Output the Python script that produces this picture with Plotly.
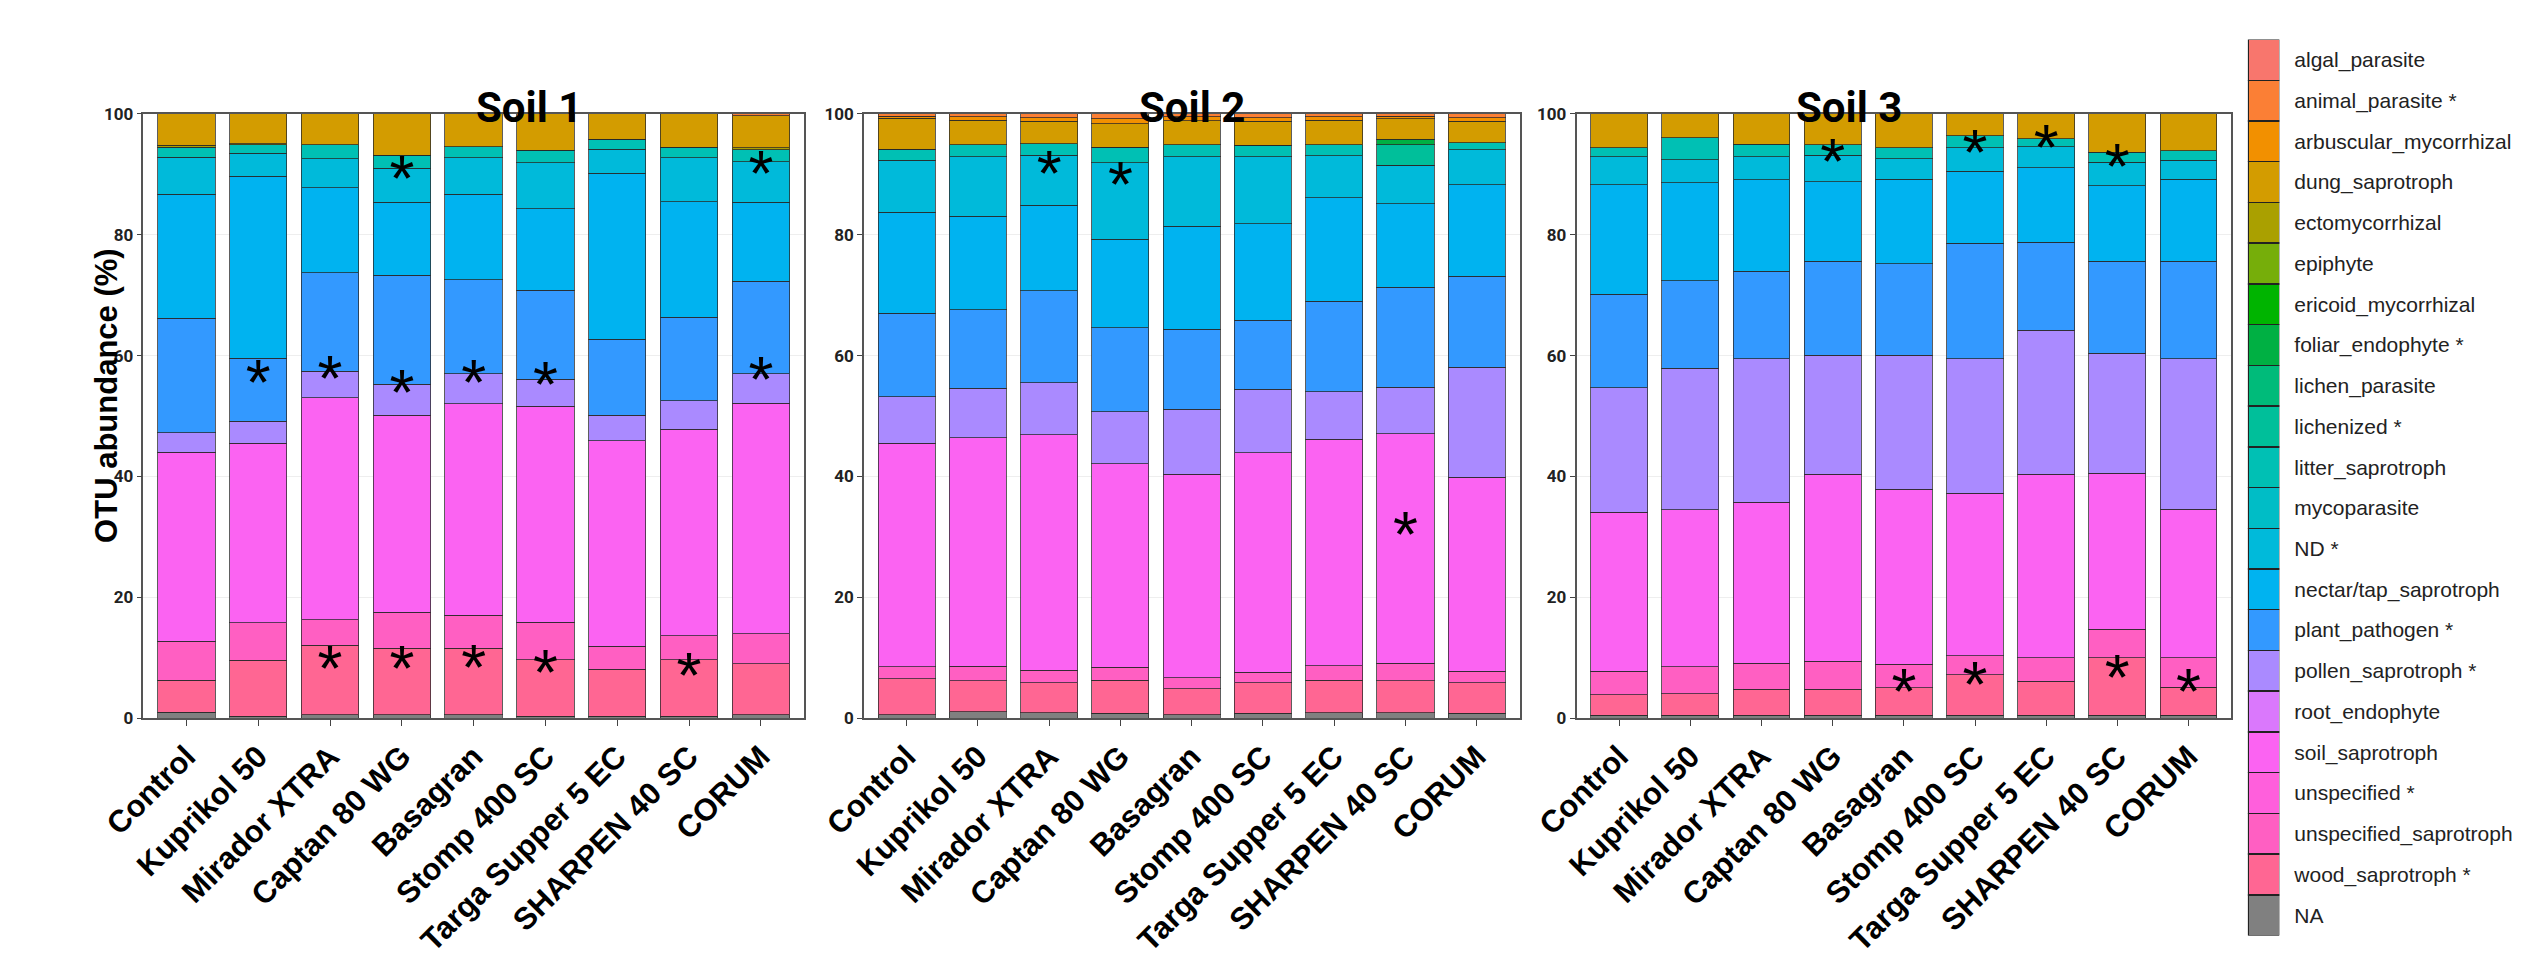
import plotly.graph_objects as go

treatments = ['Control', 'Kuprikol 50', 'Mirador XTRA', 'Captan 80 WG', 'Basagran',
              'Stomp 400 SC', 'Targa Supper 5 EC', 'SHARPEN 40 SC', 'CORUM']

# guilds in legend order (top of the stack first)
guilds = ['algal_parasite', 'animal_parasite', 'arbuscular_mycorrhizal', 'dung_saprotroph',
          'ectomycorrhizal', 'epiphyte', 'ericoid_mycorrhizal', 'foliar_endophyte',
          'lichen_parasite', 'lichenized', 'litter_saprotroph', 'mycoparasite', 'ND',
          'nectar/tap_saprotroph', 'plant_pathogen', 'pollen_saprotroph', 'root_endophyte',
          'soil_saprotroph', 'unspecified', 'unspecified_saprotroph', 'wood_saprotroph', 'NA']
starred = ['animal_parasite', 'foliar_endophyte', 'lichenized', 'ND', 'plant_pathogen',
           'pollen_saprotroph', 'unspecified', 'wood_saprotroph']
guild_colors = ['#F8766D', '#FB7F35', '#F29000', '#D39C00', '#AAA000', '#76AE0A',
                '#00B400', '#00B043', '#00BB7A', '#00BF9A', '#00C0B4', '#00BDC6',
                '#00BADA', '#00B3F0', '#3399FF', '#AA8AFF', '#DA78FC', '#FB63F2',
                '#FF5FDC', '#FF5FC2', '#FF6693', '#808080']

# Soil 1 - OTU abundance (%)
s1_na = [1.0, 0.3, 0.6, 0.6, 0.6, 0.3, 0.3, 0.3, 0.6]
s1_wood = [5.3, 9.3, 11.5, 11.0, 11.0, 9.4, 7.8, 9.4, 8.4]
s1_unspec_sap = [6.4, 6.15, 4.15, 5.9, 5.4, 6.2, 3.8, 3.9, 5.0]
s1_soil = [31.3, 29.75, 36.75, 32.6, 35.0, 35.7, 34.0, 34.2, 38.1]
s1_pollen = [3.2, 3.6, 4.4, 5.2, 5.0, 4.5, 4.2, 4.7, 4.9]
s1_plant = [19.0, 10.5, 16.35, 18.0, 15.6, 14.75, 12.6, 13.85, 15.35]
s1_nectar = [20.5, 30.1, 14.05, 12.1, 14.1, 13.45, 27.5, 19.15, 13.05]
s1_nd = [6.1, 3.8, 4.8, 5.6, 6.05, 7.6, 4.0, 7.25, 6.7]
s1_litter = [1.7, 1.4, 2.3, 2.2, 1.85, 2.1, 1.6, 1.75, 2.0]
s1_ecto = [0.3, 0.2, 0, 0, 0, 0, 0, 0, 0.3]
s1_dung = [5.2, 5.0, 5.1, 6.8, 5.4, 6.0, 4.2, 5.5, 5.3]
s1_animal = [0, 0, 0, 0, 0, 0, 0, 0, 0.4]

# Soil 2
s2_na = [0.6, 1.1, 0.9, 0.8, 0.6, 0.8, 0.9, 0.9, 0.8]
s2_wood = [5.9, 5.1, 5.0, 5.5, 4.3, 5.1, 5.4, 5.3, 5.1]
s2_unspec_sap = [2.0, 2.4, 2.0, 2.1, 1.8, 1.7, 2.4, 2.9, 1.9]
s2_soil = [37.0, 37.8, 39.0, 33.7, 33.7, 36.3, 37.5, 38.0, 32.1]
s2_pollen = [7.7, 8.2, 8.6, 8.6, 10.7, 10.5, 7.8, 7.7, 18.15]
s2_plant = [13.8, 13.0, 15.2, 13.9, 13.3, 11.45, 15.0, 16.5, 15.05]
s2_nectar = [16.7, 15.5, 14.2, 14.7, 17.0, 15.95, 17.1, 13.85, 15.2]
s2_nd = [8.6, 9.8, 8.3, 12.6, 11.5, 11.1, 7.0, 6.35, 5.8]
s2_litter = [1.9, 2.0, 1.9, 2.6, 2.0, 1.9, 1.8, 0, 1.1]
s2_lichenized = [0, 0, 0, 0, 0, 0, 0, 3.4, 0]
s2_foliar = [0, 0, 0, 0, 0, 0, 0, 0.9, 0]
s2_dung = [5.1, 4.1, 3.7, 3.9, 4.0, 4.0, 4.1, 3.4, 3.6]
s2_arbuscular = [0.3, 0.5, 0.6, 0.8, 0.6, 0.6, 0.5, 0.4, 0.6]
s2_animal = [0.4, 0.5, 0.6, 0.8, 0.5, 0.6, 0.5, 0.4, 0.6]

# Soil 3
s3_na = [0.5, 0.5, 0.5, 0.5, 0.5, 0.5, 0.5, 0.5, 0.5]
s3_wood = [3.4, 3.5, 4.3, 4.3, 4.5, 6.7, 5.6, 9.5, 4.6]
s3_unspec_sap = [3.9, 4.5, 4.3, 4.6, 3.9, 3.1, 3.9, 4.7, 4.9]
s3_soil = [26.25, 26.0, 26.6, 31.0, 29.0, 26.9, 30.4, 25.8, 24.6]
s3_pollen = [20.65, 23.4, 23.8, 19.7, 22.2, 22.3, 23.8, 19.9, 24.9]
s3_plant = [15.5, 14.5, 14.5, 15.5, 15.1, 19.1, 14.6, 15.2, 16.1]
s3_nectar = [18.1, 16.2, 15.1, 13.2, 14.0, 11.9, 12.3, 12.5, 13.6]
s3_nd = [4.6, 3.8, 3.8, 4.4, 3.4, 3.9, 3.5, 3.9, 3.1]
s3_litter = [1.5, 3.7, 2.1, 1.7, 1.8, 2.0, 1.3, 1.7, 1.6]
s3_dung = [5.6, 4.0, 5.0, 5.1, 5.6, 3.6, 4.1, 6.3, 6.1]

# significance asterisks (treatment, height in %)
s1_star_x = ['Kuprikol 50', 'Mirador XTRA', 'Captan 80 WG', 'Captan 80 WG', 'Basagran',
             'Stomp 400 SC', 'CORUM', 'CORUM', 'CORUM', 'Mirador XTRA', 'Captan 80 WG',
             'Basagran', 'Stomp 400 SC', 'SHARPEN 40 SC']
s1_star_y = [54.4, 55.2, 52.8, 88.2, 54.5, 54.1, 100.9, 89.0, 54.9, 7.2, 7.2, 7.3, 6.4, 6.0]
s2_star_x = ['Mirador XTRA', 'Captan 80 WG', 'SHARPEN 40 SC']
s2_star_y = [89.1, 87.2, 29.3]
s3_star_x = ['Captan 80 WG', 'Stomp 400 SC', 'Targa Supper 5 EC', 'SHARPEN 40 SC',
             'Basagran', 'Stomp 400 SC', 'SHARPEN 40 SC', 'CORUM']
s3_star_y = [91.0, 92.6, 93.3, 90.3, 3.3, 4.5, 5.6, 3.3]

soils = [
    {'NA': s1_na, 'wood_saprotroph': s1_wood, 'unspecified_saprotroph': s1_unspec_sap,
     'soil_saprotroph': s1_soil, 'pollen_saprotroph': s1_pollen, 'plant_pathogen': s1_plant,
     'nectar/tap_saprotroph': s1_nectar, 'ND': s1_nd, 'litter_saprotroph': s1_litter,
     'ectomycorrhizal': s1_ecto, 'dung_saprotroph': s1_dung, 'animal_parasite': s1_animal},
    {'NA': s2_na, 'wood_saprotroph': s2_wood, 'unspecified_saprotroph': s2_unspec_sap,
     'soil_saprotroph': s2_soil, 'pollen_saprotroph': s2_pollen, 'plant_pathogen': s2_plant,
     'nectar/tap_saprotroph': s2_nectar, 'ND': s2_nd, 'litter_saprotroph': s2_litter,
     'lichenized': s2_lichenized, 'foliar_endophyte': s2_foliar, 'dung_saprotroph': s2_dung,
     'arbuscular_mycorrhizal': s2_arbuscular, 'animal_parasite': s2_animal},
    {'NA': s3_na, 'wood_saprotroph': s3_wood, 'unspecified_saprotroph': s3_unspec_sap,
     'soil_saprotroph': s3_soil, 'pollen_saprotroph': s3_pollen, 'plant_pathogen': s3_plant,
     'nectar/tap_saprotroph': s3_nectar, 'ND': s3_nd, 'litter_saprotroph': s3_litter,
     'dung_saprotroph': s3_dung},
]
stars = [(s1_star_x, s1_star_y), (s2_star_x, s2_star_y), (s3_star_x, s3_star_y)]
titles = ['Soil 1', 'Soil 2', 'Soil 3']

W, H = 2521, 963
x_domains = [[94 / W, 766 / W], [827 / W, 1494 / W], [1552 / W, 2218 / W]]
y_domain = [(H - 715) / H, (H - 98) / H]

color_of = dict(zip(guilds, guild_colors))
fig = go.Figure()

for k, soil in enumerate(soils):
    ax = '' if k == 0 else str(k + 1)
    # stack from the bottom of the legend upwards
    for g in reversed(guilds):
        if g not in soil:
            continue
        fig.add_trace(go.Bar(x=treatments, y=soil[g], name=g, width=0.8,
                             marker=dict(color=color_of[g],
                                         line=dict(color='rgba(40,40,40,0.75)', width=1)),
                             xaxis='x' + ax, yaxis='y' + ax, showlegend=False))
    fig.add_trace(go.Scatter(x=stars[k][0], y=stars[k][1], mode='text', text='*',
                             textposition='middle center',
                             textfont=dict(family='Liberation Sans', size=64, color='black'),
                             xaxis='x' + ax, yaxis='y' + ax, showlegend=False, cliponaxis=False))

    fig.layout['xaxis' + ax] = dict(
        domain=x_domains[k], anchor='y' + ax, type='category', range=[-0.6, 8.6],
        tickangle=-45, ticks='outside', ticklen=6, tickcolor='#444',
        tickfont=dict(family='Liberation Sans', size=31, color='black', weight='bold'),
        showline=True, mirror=True, linecolor='#555', linewidth=1.5, showgrid=False)
    fig.layout['yaxis' + ax] = dict(
        domain=y_domain, anchor='x' + ax, range=[0, 100], tickvals=[0, 20, 40, 60, 80, 100],
        ticks='outside', ticklen=5, tickcolor='#444',
        tickfont=dict(family='Roboto', size=17, color='#222', weight='bold'),
        showline=True, mirror=True, linecolor='#555', linewidth=1.5,
        showgrid=True, gridcolor='#EEEEEE', zeroline=False)
    fig.add_annotation(text='<b>' + titles[k] + '</b>', xref='paper', yref='paper',
                       x=sum(x_domains[k]) / 2, y=(H - 64) / H, showarrow=False,
                       font=dict(family='Roboto', size=42, color='black'))

fig.add_annotation(text='<b>OTU abundance (%)</b>', xref='paper', yref='paper',
                   x=36 / W, y=(H - 385) / H, textangle=-90, showarrow=False,
                   font=dict(family='Liberation Sans', size=31, color='black'))

# legend drawn as a column of colour keys with labels on the right
legend_text = [g + (' *' if g in starred else '') for g in guilds]
for g in reversed(guilds):
    fig.add_trace(go.Bar(x=[0], y=[1], width=1, marker=dict(color=color_of[g],
                         line=dict(color='#222', width=1.5)),
                         xaxis='x4', yaxis='y4', showlegend=False))
fig.layout['xaxis4'] = dict(domain=[2235 / W, 2267 / W], anchor='y4', range=[-0.5, 0.5],
                            visible=False)
fig.layout['yaxis4'] = dict(domain=[(H - 937) / H, (H - 22) / H], anchor='x4', range=[0, 22],
                            side='right', tickvals=[i + 0.5 for i in range(22)],
                            ticktext=list(reversed(legend_text)), ticks='', showgrid=False,
                            zeroline=False, showline=False, ticklabelstandoff=14,
                            tickfont=dict(family='Liberation Sans', size=21, color='#222'))

fig.update_layout(width=W, height=H, barmode='stack', paper_bgcolor='white',
                  plot_bgcolor='white', margin=dict(l=0, r=0, t=0, b=0))

fig.write_html("out.html")
